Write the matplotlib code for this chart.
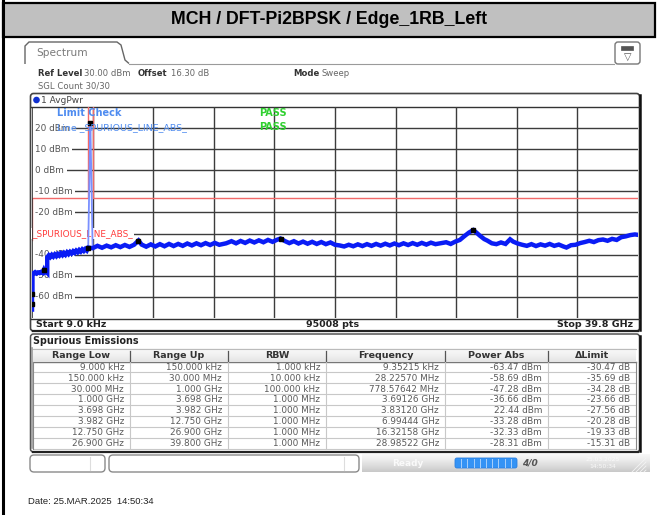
import matplotlib
matplotlib.use("Agg")
import matplotlib.pyplot as plt
from matplotlib.patches import Rectangle, FancyBboxPatch, Circle, Polygon
from matplotlib.transforms import blended_transform_factory
import numpy as np

# ---------------- data ----------------
title = "MCH / DFT-Pi2BPSK / Edge_1RB_Left"

y_grid_dbm = [30, 20, 10, 0, -10, -20, -30, -40, -50, -60, -70]
y_label_values = [20, 10, 0, -10, -20, -40, -50, -60]
x_start_ghz = 0.000009
x_stop_ghz = 39.8

trace_freq_ghz = [
    0.000009, 0.00000935, 0.00015, 0.00015, 0.0282, 0.03, 0.03,
    0.1, 0.2, 0.3, 0.4, 0.5, 0.6, 0.7, 0.7786, 0.85, 0.95, 1.0,
    1.0, 1.1, 1.2, 1.3, 1.4, 1.5, 1.6, 1.7, 1.8, 1.9, 2.0, 2.1, 2.2, 2.3,
    2.4, 2.5, 2.6, 2.7, 2.8, 2.9, 3.0, 3.1, 3.2, 3.3, 3.4, 3.5, 3.6, 3.69126,
    3.982, 4.3, 4.6, 4.9, 5.2, 5.5, 5.8, 6.1, 6.4, 6.7, 6.99444, 7.2, 7.5,
    7.8, 8.1, 8.4, 8.7, 9.0, 9.3, 9.6, 9.9, 10.2, 10.5, 10.8, 11.1, 11.4,
    11.7, 12.0, 12.3, 12.75,
    13.1, 13.4, 13.7, 14.0, 14.3, 14.6, 14.9, 15.2, 15.5, 15.8, 16.1,
    16.32158, 16.6, 16.9, 17.2, 17.5, 17.8, 18.1, 18.4, 18.7, 19.0, 19.3,
    19.6, 19.9, 20.2, 20.5, 20.8, 21.1, 21.4, 21.7, 22.0, 22.3, 22.6, 22.9,
    23.2, 23.5, 23.8, 24.1, 24.4, 24.7, 25.0, 25.3, 25.6, 25.9, 26.2, 26.5,
    26.9, 27.2, 27.5, 27.8, 28.1, 28.4, 28.7, 28.98522, 29.2, 29.4, 29.7,
    29.9, 30.2, 30.5, 30.8, 31.1, 31.4, 31.6, 31.9, 32.2, 32.5, 32.8, 33.1,
    33.4, 33.7, 34.0, 34.3, 34.6, 34.9, 35.1, 35.4, 35.7, 36.0, 36.3, 36.6,
    36.9, 37.2, 37.5, 37.8, 38.1, 38.4, 38.7, 39.0, 39.3, 39.6, 39.8,
]
trace_dbm = [
    -66.0, -63.47, -64.5, -60.0, -58.69, -59.5, -49.2,
    -48.8, -48.3, -48.9, -48.4, -48.7, -48.2, -48.6, -47.28, -48.4, -48.1, -48.5,
    -41.2, -40.3, -41.1, -40.1, -40.9, -39.9, -40.7, -39.7, -40.4, -39.4, -40.2,
    -39.2, -40.0, -38.9, -39.7, -38.7, -39.4, -38.4, -39.1, -38.1, -38.8, -37.8,
    -38.5, -37.5, -38.2, -37.3, -38.0, -36.66,
    -36.9, -35.8, -36.7, -35.7, -36.5, -35.5, -36.4, -35.4, -36.3, -35.3,
    -33.28, -35.2, -36.2, -35.1, -36.1, -35.0, -36.0, -34.9, -35.9, -34.9,
    -35.8, -34.7, -35.6, -34.6, -35.5, -34.5, -35.4, -34.4, -35.3, -34.6,
    -33.6, -34.6, -33.5, -34.4, -33.3, -34.2, -33.2, -34.1, -33.0, -33.9,
    -32.9, -32.33, -33.5, -34.5, -33.6, -34.7, -33.8, -34.8, -33.9, -34.9,
    -34.0, -35.0, -34.2, -35.3, -35.6, -36.1, -35.3, -36.0, -35.1, -35.9,
    -35.0, -35.8, -34.9, -35.7, -34.8, -35.6, -34.7, -35.5, -34.6, -35.4,
    -34.5, -35.3, -34.4, -35.2, -34.3, -35.0, -34.5, -34.1, -34.9, -33.8,
    -33.0, -31.2, -29.5, -28.31, -29.6, -30.9, -32.6, -33.3, -34.6, -35.0,
    -34.2, -34.9, -32.7, -33.8, -34.7, -35.3, -35.8, -35.0, -35.9, -35.1,
    -35.7, -34.9, -35.8, -35.2, -36.1, -36.6, -35.5, -35.3, -34.5, -34.0,
    -33.4, -34.0, -33.1, -32.8, -33.4, -32.5, -33.0, -31.7, -31.3, -30.7,
    -30.4, -30.6,
]

carrier_freq_ghz = [3.69126, 3.829, 3.8312, 3.834, 3.982]
carrier_dbm = [-36.66, 21.8, 22.44, 21.8, -36.8]

limit_freq_ghz = [0.000009, 0.00015, 0.00015, 0.03, 0.03, 3.698, 3.698,
                  3.982, 3.982, 39.8]
limit_dbm = [-33, -33, -23, -23, -13, -13, 50, 50, -13, -13]

marker_freq_ghz = [0.00000935215, 0.0282257, 0.77857642, 3.69126, 3.83120,
                   6.99444, 16.32158, 28.98522]
marker_dbm = [-63.47, -58.69, -47.28, -36.66, 22.44, -33.28, -32.33, -28.31]

col_headers = ["Range Low", "Range Up", "RBW", "Frequency", "Power Abs", "ΔLimit"]
range_low = ["9.000 kHz", "150.000 kHz", "30.000 MHz", "1.000 GHz",
             "3.698 GHz", "3.982 GHz", "12.750 GHz", "26.900 GHz"]
range_up = ["150.000 kHz", "30.000 MHz", "1.000 GHz", "3.698 GHz",
            "3.982 GHz", "12.750 GHz", "26.900 GHz", "39.800 GHz"]
rbw = ["1.000 kHz", "10.000 kHz", "100.000 kHz", "1.000 MHz",
       "1.000 MHz", "1.000 MHz", "1.000 MHz", "1.000 MHz"]
frequency = ["9.35215 kHz", "28.22570 MHz", "778.57642 MHz", "3.69126 GHz",
             "3.83120 GHz", "6.99444 GHz", "16.32158 GHz", "28.98522 GHz"]
power_abs = ["-63.47 dBm", "-58.69 dBm", "-47.28 dBm", "-36.66 dBm",
             "22.44 dBm", "-33.28 dBm", "-32.33 dBm", "-28.31 dBm"]
delta_limit = ["-30.47 dB", "-35.69 dB", "-34.28 dB", "-23.66 dB",
               "-27.56 dB", "-20.28 dB", "-19.33 dB", "-15.31 dB"]

# ---------------- figure ----------------
W, H = 657, 515
fig = plt.figure(figsize=(W / 100, H / 100), dpi=100)
fig.patch.set_facecolor("white")
ov = fig.add_axes([0, 0, 1, 1])
ov.set_xlim(0, W)
ov.set_ylim(H, 0)
ov.axis("off")

UI = "DejaVu Sans"
AR = "Liberation Sans"

# outer frame + title band
ov.add_patch(Rectangle((3, 3), 652, 34, facecolor="#c0c0c0", edgecolor="black", lw=1.6))
ov.plot([3, 3], [0, H], color="black", lw=2.2)
ov.text(329, 20, title, ha="center", va="center", fontsize=12.8,
        fontweight="bold", family=AR, color="black")

# tab
tab = Polygon([(25, 64), (25, 46), (29, 42), (117, 42), (121, 45), (125, 60),
               (129, 63.5)], closed=False, fill=False, edgecolor="#666", lw=1.0)
ov.add_patch(tab)
ov.plot([129, 614], [63.5, 63.5], color="#9a9a9a", lw=0.8)
ov.text(36, 53.5, "Spectrum", fontsize=7.6, family=UI, color="#7a7a7a", va="center")
ov.add_patch(FancyBboxPatch((615, 42), 25, 22, boxstyle="round,pad=0,rounding_size=3",
                            facecolor="white", edgecolor="#777", lw=1.0))
ov.add_patch(Rectangle((621, 45.5), 12, 4, facecolor="#555", edgecolor="#555", lw=0.5))
ov.text(627.5, 57, "▽", fontsize=7, family=UI, color="#555", ha="center", va="center")

# settings text
def lab(x, y, s, bold=False, color="#333", size=6.1):
    ov.text(x, y, s, fontsize=size, family=UI, color=color, va="center",
            fontweight="bold" if bold else "normal")

lab(38, 73, "Ref Level", bold=True, color="#333")
lab(84, 73, "30.00 dBm", color="#666")
lab(138, 73, "Offset", bold=True, color="#333")
lab(171, 73, "16.30 dB", color="#666")
lab(293, 73, "Mode", bold=True, color="#333")
lab(321, 73, "Sweep", color="#666")
lab(38, 86, "SGL Count 30/30", color="#666")

# spectrum panel
ov.add_patch(FancyBboxPatch((30.5, 93.5), 609, 237.5,
                            boxstyle="round,pad=0,rounding_size=3",
                            facecolor="white", edgecolor="#444", lw=1.2))
ov.plot([639.5, 639.5], [95, 330], color="#111", lw=1.8)
ov.plot([33, 638], [331, 331], color="#222", lw=1.6)
ov.add_patch(Circle((36.5, 100), 2.6, facecolor="#1030d0", edgecolor="#1030d0"))
lab(41, 100.5, "1 AvgPwr", color="#444", size=6.5)
ov.plot([31, 639], [106.5, 106.5], color="#333", lw=1.0)
ov.plot([31, 639], [318.5, 318.5], color="#333", lw=1.0)
lab(36, 324.5, "Start 9.0 kHz", bold=True, color="#222", size=6.8)
ov.text(333, 324.5, "95008 pts", fontsize=6.8, family=UI, fontweight="bold",
        color="#222", ha="center", va="center")
ov.text(633, 324.5, "Stop 39.8 GHz", fontsize=6.8, family=UI, fontweight="bold",
        color="#222", ha="right", va="center")

# spectrum axes
sp = fig.add_axes([32 / W, 1 - 318 / H, 606 / W, 211 / H])
sp.set_xlim(0, x_stop_ghz)
sp.set_ylim(-70, 30)
sp.patch.set_alpha(0)
for s in sp.spines.values():
    s.set_visible(False)
sp.set_xticks([])
sp.set_yticks([])
sp.set_zorder(5)

for i in range(1, 10):
    sp.axvline(x_stop_ghz * i / 10, color="#3c3c3c", lw=1.0, zorder=1)
for yv in y_grid_dbm[1:-1]:
    sp.axhline(yv, color="#3c3c3c", lw=1.0, zorder=1)
sp.axvline(0.0, color="#333", lw=1.2, zorder=3.5)

tr = blended_transform_factory(sp.transAxes, sp.transData)
for yv in y_label_values:
    sp.text(0.005, yv, f"{yv} dBm", transform=tr, fontsize=6.4, family=UI,
            color="#555", va="center", ha="left", zorder=2,
            bbox=dict(facecolor="white", edgecolor="none",
                      boxstyle="square,pad=0.3"))
sp.text(0.0, -30, "_SPURIOUS_LINE_ABS_", transform=tr, fontsize=6.4, family=UI,
        color="#ff3b3b", va="center", ha="left", zorder=2,
        bbox=dict(facecolor="white", edgecolor="none", pad=0.6))

# limit line
sp.plot(limit_freq_ghz, limit_dbm, color="#f26a6a", lw=1.0, zorder=3)
# carrier + trace
sp.plot(carrier_freq_ghz, carrier_dbm, color="#7a90ff", lw=1.3, zorder=4)
sp.plot(trace_freq_ghz, trace_dbm, color="#0a1cf5", lw=3.2, zorder=4,
        solid_joinstyle="miter")
sp.plot(marker_freq_ghz, marker_dbm, ls="none", marker="s", ms=3.2,
        color="black", zorder=6)

# limit check text (on top)
ov.set_zorder(1)
ov2 = fig.add_axes([0, 0, 1, 1])
ov2.set_xlim(0, W)
ov2.set_ylim(H, 0)
ov2.axis("off")
ov2.set_zorder(10)
ov2.patch.set_alpha(0)
ov2.text(57, 113.5, "Limit Check", fontsize=7, family=UI, fontweight="bold",
         color="#4f8cf0", va="center")
ov2.text(259, 113.5, "PASS", fontsize=7, family=UI, fontweight="bold",
         color="#2fd02f", va="center")
ov2.text(57, 127.5, "Line _SPURIOUS_LINE_ABS_", fontsize=6.8, family=UI,
         color="#4f8cf0", va="center")
ov2.text(259, 127.5, "PASS", fontsize=7, family=UI, fontweight="bold",
         color="#2fd02f", va="center")

# ---------------- table ----------------
ov2.text(33, 341, "Spurious Emissions", fontsize=6.9, family=UI, fontweight="bold",
         color="#222", va="center")
ov.add_patch(FancyBboxPatch((30.5, 334), 609, 118, boxstyle="round,pad=0,rounding_size=3",
                            facecolor="white", edgecolor="#555", lw=1.1))
ov.plot([639.5, 639.5], [336, 451], color="#111", lw=1.8)
ov.plot([33, 638], [451.5, 451.5], color="#222", lw=1.6)
col_edges = [33, 130, 228, 326, 445, 548, 636]
head_top, head_bot = 348.5, 361.5
grad = np.linspace(0, 1, 20).reshape(-1, 1)
ov.imshow(grad, extent=(col_edges[0], col_edges[-1], head_bot, head_top),
          cmap="Greys", vmin=-0.3, vmax=6.9, aspect="auto", zorder=2)
ov.plot([col_edges[0], col_edges[-1]], [head_top, head_top], color="#bbb", lw=0.8, zorder=3)
ov.plot([col_edges[0], col_edges[-1]], [head_bot, head_bot], color="#777", lw=1.0, zorder=3)
for j, hname in enumerate(col_headers):
    cx = (col_edges[j] + col_edges[j + 1]) / 2
    ov.text(cx, 355, hname, fontsize=6.8, family=UI, fontweight="bold", color="#333",
            ha="center", va="center", zorder=4)
row_h = 10.9
cols = [range_low, range_up, rbw, frequency, power_abs, delta_limit]
for i in range(len(range_low)):
    yc = 367.3 + i * row_h
    ybot = head_bot + (i + 1) * row_h
    ov.plot([col_edges[0], col_edges[-1]], [ybot, ybot], color="#c8c8c8", lw=0.8, zorder=3)
    for j, col in enumerate(cols):
        ov.text(col_edges[j + 1] - 6, yc, col[i], fontsize=6.4, family=UI, color="#5a5a5a",
                ha="right", va="center", zorder=4)
for j, xe in enumerate(col_edges):
    col = "#888" if j in (0, len(col_edges) - 1) else "#c8c8c8"
    ov.plot([xe, xe], [head_bot, head_bot + 8 * row_h], color=col, lw=0.8, zorder=3)
    if 0 < j < len(col_edges) - 1:
        ov.plot([xe, xe], [head_top + 2, head_bot - 1], color="#555", lw=0.9, zorder=3)
ov.plot([31.5, 31.5], [348, 448], color="#999", lw=1.2, zorder=3)

# ---------------- status bar ----------------
ov.add_patch(FancyBboxPatch((30, 455), 75, 17, boxstyle="round,pad=0,rounding_size=4",
                            facecolor="white", edgecolor="#8a8a8a", lw=1.0))
ov.plot([90, 90], [457, 470], color="#ddd", lw=0.8)
ov.add_patch(FancyBboxPatch((109, 455), 250, 17, boxstyle="round,pad=0,rounding_size=4",
                            facecolor="white", edgecolor="#8a8a8a", lw=1.0))
ov.plot([344, 344], [457, 470], color="#ddd", lw=0.8)
sgrad = np.linspace(0, 1, 30).reshape(-1, 1)
ov.imshow(sgrad, extent=(362, 650, 472, 454), cmap="Greys", vmin=-0.25, vmax=3.6,
          aspect="auto", zorder=1)
ov.text(408, 463, "Ready", fontsize=6.5, family=UI, fontweight="bold", color="#fafafa",
        ha="center", va="center", zorder=3)
ov.add_patch(FancyBboxPatch((455, 458), 62, 10, boxstyle="round,pad=0,rounding_size=2",
                            facecolor="#3493f5", edgecolor="#2a7fe0", lw=0.6, zorder=3))
for k in range(1, 10):
    xs = 455 + 62 * k / 10
    ov.plot([xs, xs], [459, 467], color="#a9d0fb", lw=0.7, zorder=4)
ov.text(530, 463, "4/0", fontsize=6.5, family=UI, fontweight="bold", style="italic",
        color="#555", ha="center", va="center", zorder=3)
ov.text(603, 459.5, "25.03.2025", fontsize=4.3, family=UI, color="#fafafa",
        ha="center", va="center", zorder=3)
ov.text(603, 466.5, "14:50:34", fontsize=4.3, family=UI, color="#fafafa",
        ha="center", va="center", zorder=3)
for k in range(4):
    ov.plot([632 + 4 * k, 646], [472, 472 - (14 - 4 * k)], color="#f4f4f4", lw=0.6, zorder=3)
ov.set_xlim(0, W)
ov.set_ylim(H, 0)

# date
ov.text(28, 502, "Date: 25.MAR.2025  14:50:34", fontsize=6.8, family=AR,
        color="#222", ha="left", va="center")

fig.savefig("out.png", dpi=100)
